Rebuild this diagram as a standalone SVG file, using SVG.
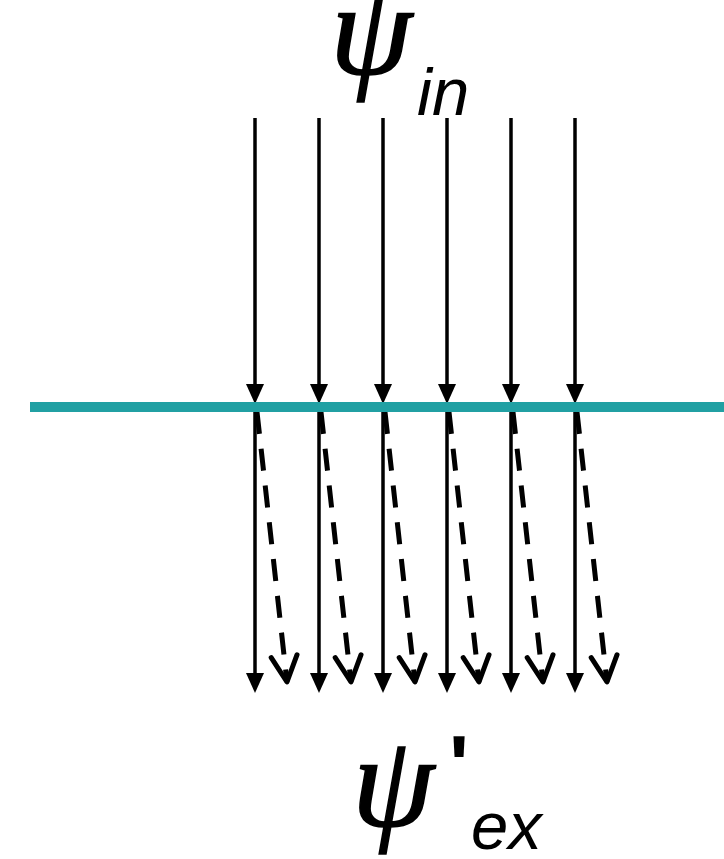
<svg xmlns="http://www.w3.org/2000/svg" width="724" height="859" viewBox="0 0 724 859">
<style>
.solid{stroke:#000;stroke-width:3.5;fill:none}
.dash{stroke:#000;stroke-width:5;fill:none;stroke-dasharray:22 15}
.psi{font-family:"Liberation Serif",serif;font-style:italic;font-size:132px;fill:#000;stroke:#000;stroke-width:1.5}
.sub{font-family:"Liberation Sans",Arial,sans-serif;font-style:italic;font-size:67px;fill:#000}
</style>
<defs>
<marker id="tri" markerUnits="userSpaceOnUse" orient="auto" refX="0" refY="0" markerWidth="40" markerHeight="40" overflow="visible">
<path d="M-4,-9 L16,0 L-4,9 z" fill="#000"/>
</marker>
<marker id="vee" markerUnits="userSpaceOnUse" orient="auto" refX="0" refY="0" markerWidth="60" markerHeight="60" overflow="visible">
<path d="M-26,-13 L0,0 L-26,13" fill="none" stroke="#000" stroke-width="5" stroke-linecap="round" stroke-linejoin="round"/>
</marker>
</defs>
<g id="connectors">
<line class="solid" x1="255" y1="118" x2="255" y2="388" marker-end="url(#tri)"/>
<line class="solid" x1="319" y1="118" x2="319" y2="388" marker-end="url(#tri)"/>
<line class="solid" x1="383" y1="118" x2="383" y2="388" marker-end="url(#tri)"/>
<line class="solid" x1="447" y1="118" x2="447" y2="388" marker-end="url(#tri)"/>
<line class="solid" x1="511" y1="118" x2="511" y2="388" marker-end="url(#tri)"/>
<line class="solid" x1="575" y1="118" x2="575" y2="388" marker-end="url(#tri)"/>
<line class="solid" x1="255" y1="412" x2="255" y2="677" marker-end="url(#tri)"/>
<line class="solid" x1="319" y1="412" x2="319" y2="677" marker-end="url(#tri)"/>
<line class="solid" x1="383" y1="412" x2="383" y2="677" marker-end="url(#tri)"/>
<line class="solid" x1="447" y1="412" x2="447" y2="677" marker-end="url(#tri)"/>
<line class="solid" x1="511" y1="412" x2="511" y2="677" marker-end="url(#tri)"/>
<line class="solid" x1="575" y1="412" x2="575" y2="677" marker-end="url(#tri)"/>
<line class="dash" x1="257" y1="412" x2="287" y2="682" marker-end="url(#vee)"/>
<line class="dash" x1="321" y1="412" x2="351" y2="682" marker-end="url(#vee)"/>
<line class="dash" x1="385" y1="412" x2="415" y2="682" marker-end="url(#vee)"/>
<line class="dash" x1="449" y1="412" x2="479" y2="682" marker-end="url(#vee)"/>
<line class="dash" x1="513" y1="412" x2="543" y2="682" marker-end="url(#vee)"/>
<line class="dash" x1="577" y1="412" x2="607" y2="682" marker-end="url(#vee)"/>
</g>
<g id="interface">
<line x1="30" y1="407" x2="724" y2="407" stroke="#21A0A3" stroke-width="10"/>
</g>
<g id="label-in">
<text x="330" y="74" class="psi">ψ</text>
<text x="417" y="115" class="sub">in</text>
</g>
<g id="label-ex">
<text x="352" y="826" class="psi">ψ</text>
<text x="449" y="794" font-family="Liberation Sans,Arial,sans-serif" font-weight="bold" font-size="84px">'</text>
<text x="471" y="849" class="sub">ex</text>
</g>
</svg>
